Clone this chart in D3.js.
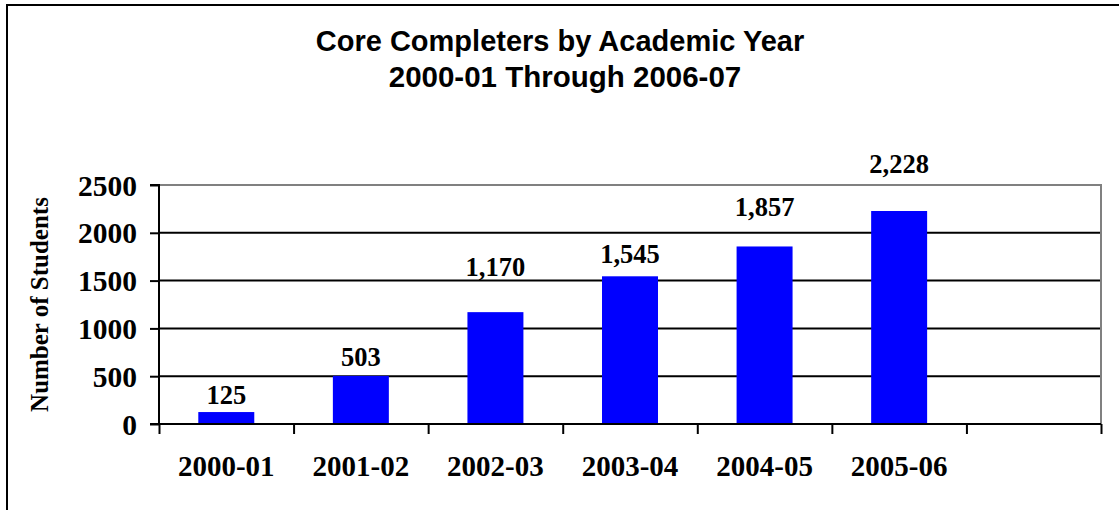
<!DOCTYPE html>
<html>
<head>
<meta charset="utf-8">
<script src="https://cdn.jsdelivr.net/npm/d3@7"></script>
<style>
  html, body { margin: 0; padding: 0; background: #fff; }
  svg { display: block; }
</style>
</head>
<body>
<svg id="chart" width="1119" height="510"></svg>
<script>
// ---- data ----
const titleLines = ["Core Completers by Academic Year", "2000-01 Through 2006-07"];
const yAxisTitle = "Number of Students";
const categories = ["2000-01", "2001-02", "2002-03", "2003-04", "2004-05", "2005-06", ""];
const values = [125, 503, 1170, 1545, 1857, 2228, null];
const valueLabels = ["125", "503", "1,170", "1,545", "1,857", "2,228", ""];
const yTicks = [0, 500, 1000, 1500, 2000, 2500];
// ---- layout (label gaps above bar tops, px) ----
const labelGap = [8, 10, 36, 13, 30, 38, 0];

const W = 1119, H = 510;
const plot = { left: 159, right: 1101, top: 185, bottom: 424 };
const serif = "'Liberation Serif', 'Times New Roman', serif";
const sans = "'Liberation Sans', Arial, sans-serif";

const svg = d3.select("#chart");

// outer frame (left & top visible)
svg.append("path")
  .attr("d", `M7,${H} V5 H${W}`)
  .attr("fill", "none").attr("stroke", "#000").attr("stroke-width", 2);

// title
svg.append("text")
  .attr("x", 560).attr("y", 51)
  .attr("text-anchor", "middle")
  .attr("font-family", sans).attr("font-weight", "bold").attr("font-size", 29)
  .text(titleLines[0]);
svg.append("text")
  .attr("x", 565).attr("y", 87)
  .attr("text-anchor", "middle")
  .attr("font-family", sans).attr("font-weight", "bold").attr("font-size", 29.5)
  .text(titleLines[1]);

// scales
const x = d3.scaleBand().domain(categories)
  .range([plot.left, plot.right]).paddingInner(0.584).paddingOuter(0.292);
const xEdge = d3.scaleLinear().domain([0, categories.length]).range([plot.left, plot.right]);
const y = d3.scaleLinear().domain([0, 2500]).range([plot.bottom, plot.top]);

// gridlines
svg.append("g").selectAll("line").data(yTicks.filter(t => t > 0 && t < 2500)).join("line")
  .attr("x1", plot.left).attr("x2", plot.right)
  .attr("y1", d => y(d)).attr("y2", d => y(d))
  .attr("stroke", "#000").attr("stroke-width", 2);

// plot area border (top & right gray)
svg.append("path")
  .attr("d", `M${plot.left},${y(2500)} H${plot.right} V${plot.bottom}`)
  .attr("fill", "none").attr("stroke", "#808080").attr("stroke-width", 2);

// bars
svg.append("g").selectAll("rect")
  .data(categories.map((c, i) => ({ c, v: values[i], i })).filter(d => d.v != null))
  .join("rect")
  .attr("x", d => x(d.c)).attr("width", x.bandwidth())
  .attr("y", d => y(d.v)).attr("height", d => y(0) - y(d.v))
  .attr("fill", "#0000ff");

// y axis
const yAxis = d3.axisLeft(y).tickValues(yTicks).tickSize(9).tickPadding(13).tickFormat(d3.format("d"));
const gy = svg.append("g").attr("transform", `translate(${plot.left},0)`).call(yAxis);
gy.select(".domain").attr("stroke", "#000").attr("stroke-width", 2)
  .attr("d", `M-9,${plot.top}H0V${plot.bottom}`);
gy.selectAll(".tick line").attr("stroke", "#000").attr("stroke-width", 2);
gy.selectAll(".tick text")
  .attr("font-family", serif).attr("font-weight", "bold").attr("font-size", 29.5)
  .attr("fill", "#000").attr("dy", "0.34em");

// x axis (ticks at category boundaries)
const xTickAxis = d3.axisBottom(xEdge).tickValues(d3.range(categories.length + 1)).tickSize(10).tickFormat("");
const gx = svg.append("g").attr("transform", `translate(0,${plot.bottom})`).call(xTickAxis);
gx.select(".domain").attr("stroke", "#000").attr("stroke-width", 2)
  .attr("d", `M${plot.left - 9},0H${plot.right}`);
gx.selectAll(".tick line").attr("stroke", "#000").attr("stroke-width", 2);

// x category labels
const xLabelAxis = d3.axisBottom(x).tickSize(0).tickPadding(0);
const gxl = svg.append("g").attr("transform", `translate(0,${plot.bottom})`).call(xLabelAxis);
gxl.select(".domain").remove();
gxl.selectAll(".tick text")
  .attr("font-family", serif).attr("font-weight", "bold").attr("font-size", 29)
  .attr("fill", "#000").attr("dy", null).attr("y", 52);

// data labels
svg.append("g").selectAll("text")
  .data(categories.map((c, i) => ({ c, v: values[i], i })).filter(d => d.v != null))
  .join("text")
  .attr("x", d => x(d.c) + x.bandwidth() / 2)
  .attr("y", d => y(d.v) - labelGap[d.i])
  .attr("text-anchor", "middle")
  .attr("font-family", serif).attr("font-weight", "bold").attr("font-size", 26.5)
  .text(d => valueLabels[d.i]);

// y axis title
svg.append("text")
  .attr("transform", `translate(48,${(plot.top + plot.bottom) / 2}) rotate(-90)`)
  .attr("text-anchor", "middle")
  .attr("font-family", serif).attr("font-weight", "bold").attr("font-size", 25)
  .text(yAxisTitle);
</script>
</body>
</html>
